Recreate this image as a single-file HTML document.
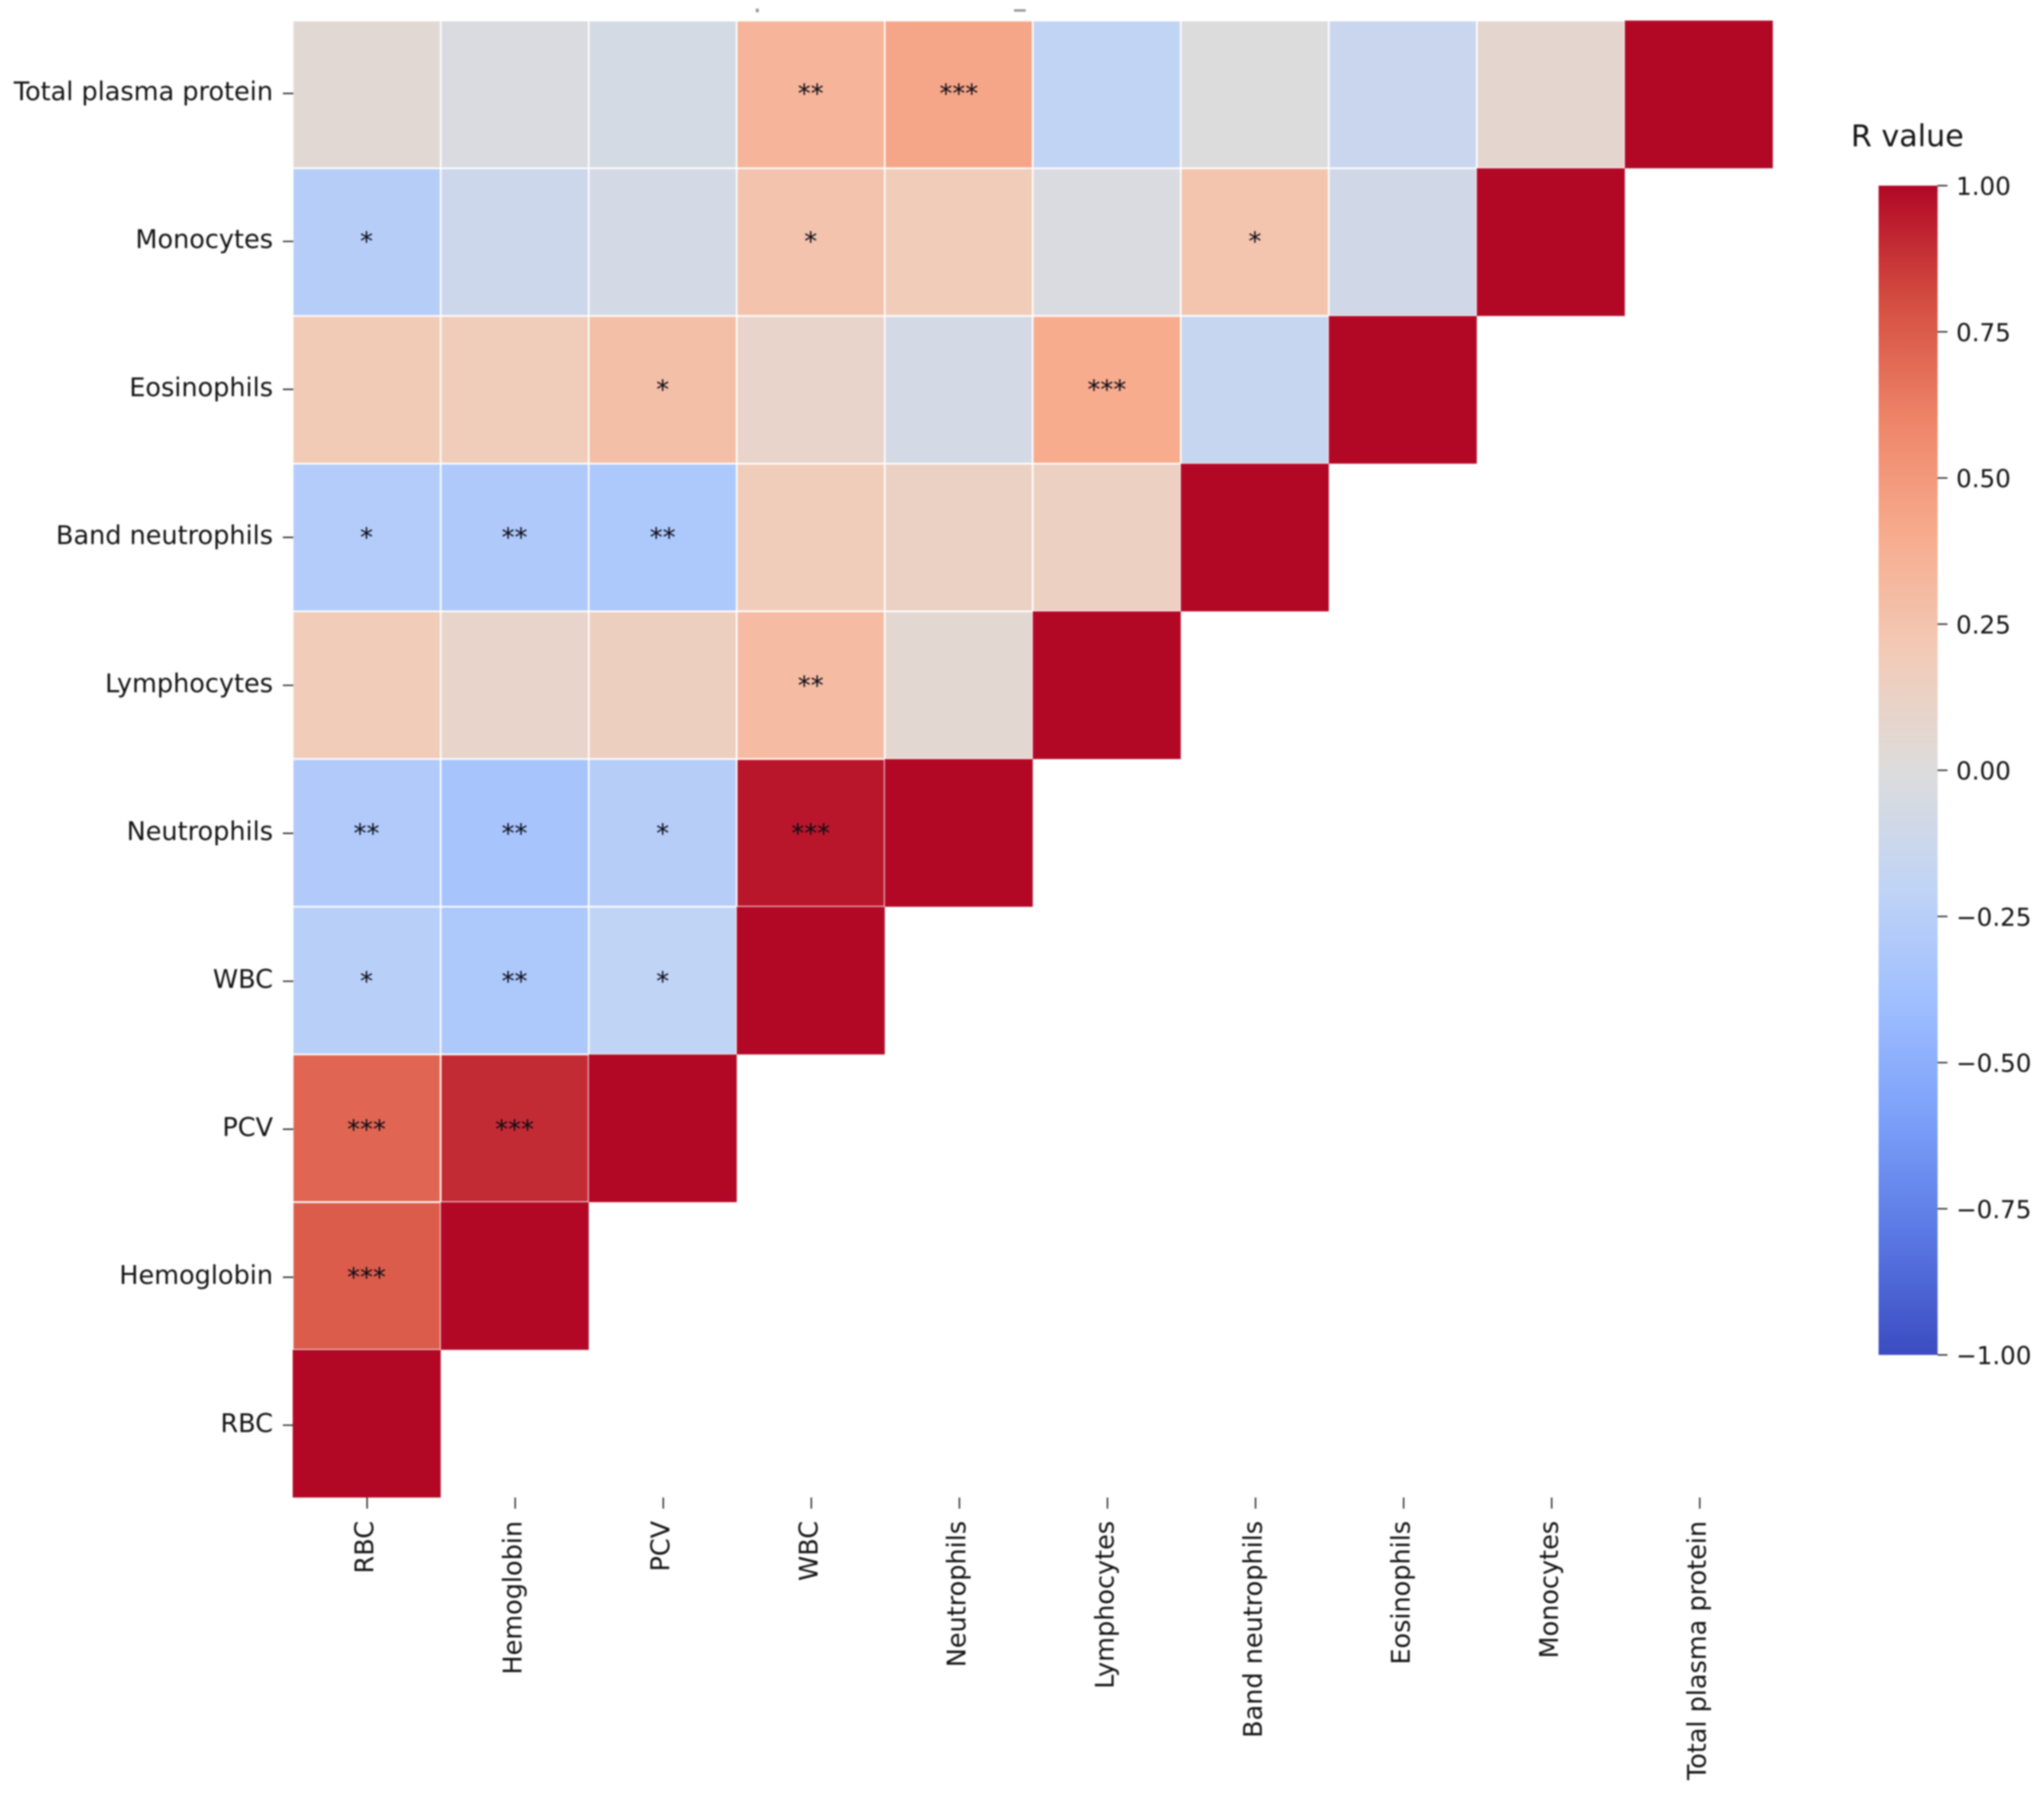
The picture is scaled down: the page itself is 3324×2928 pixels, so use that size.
<!DOCTYPE html>
<html lang="en">
<head>
<meta charset="utf-8">
<title>Correlation heatmap</title>
<style>
html,body{margin:0;padding:0;background:#fff;width:3324px;height:2928px;overflow:hidden}
svg{display:block;filter:blur(1.2px)}
text{font-family:"DejaVu Sans","Liberation Sans",sans-serif;fill:#141414}
</style>
</head>
<body>
<svg id="chart" xmlns="http://www.w3.org/2000/svg" width="3324" height="2928" viewBox="0 0 3324 2928">
<defs><linearGradient id="cbar-gradient" x1="0" y1="1" x2="0" y2="0"></linearGradient></defs>
<rect x="0" y="0" width="3324" height="2928" fill="#fff"/>
<rect x="1229" y="14" width="5" height="6" fill="#999"/>
<rect x="1649" y="15" width="19" height="4" fill="#999"/>
</svg>
<script>
const rowLabels = ["Total plasma protein","Monocytes","Eosinophils","Band neutrophils","Lymphocytes","Neutrophils","WBC","PCV","Hemoglobin","RBC"];
const colLabels = ["RBC","Hemoglobin","PCV","WBC","Neutrophils","Lymphocytes","Band neutrophils","Eosinophils","Monocytes","Total plasma protein"];
const rValues = [
  [0.05,-0.03,-0.06,0.34,0.43,-0.19,-0.01,-0.14,0.07,1],
  [-0.26,-0.12,-0.07,0.25,0.19,-0.03,0.24,-0.09,1],
  [0.20,0.18,0.28,0.10,-0.07,0.40,-0.16,1],
  [-0.27,-0.30,-0.31,0.18,0.13,0.14,1],
  [0.19,0.10,0.15,0.30,0.06,1],
  [-0.29,-0.35,-0.26,0.96,1],
  [-0.25,-0.31,-0.20,1],
  [0.71,0.90,1],
  [0.75,1],
  [1]
];
const stars = [
  ["","","","**","***","","","","",""],
  ["*","","","*","","","*","",""],
  ["","","*","","","***","",""],
  ["*","**","**","","","",""],
  ["","","","**","",""],
  ["**","**","*","***",""],
  ["*","**","*",""],
  ["***","***",""],
  ["***",""],
  [""]
];
const colorbarTicks = ["1.00","0.75","0.50","0.25","0.00","\u22120.25","\u22120.50","\u22120.75","\u22121.00"];
const colorbarTickValues = [1,0.75,0.5,0.25,0,-0.25,-0.5,-0.75,-1];
const colormapStops = ["#3b4cc0","#5977e3","#7b9ff9","#9ebeff","#c0d4f5","#dddcdc","#f2cbb7","#f7ac8e","#ee8468","#d44e41","#b20826"];

const svg = document.getElementById('chart');
const NS = 'http://www.w3.org/2000/svg';
const plotLeft = 476, colStep = 240.7, plotTop = 33.5, rowStep = 240.25;
const cbLeft = 3055, cbRight = 3151, cbTop = 302, cbBottom = 2204;

function xEdge(i){ return plotLeft + colStep * i; }
function yEdge(i){ return plotTop + rowStep * i; }
function xTick(i){ return 597 + 240.8 * i; }
function yTick(i){ return 152 + 240.7 * i; }
function cbY(v){ return cbBottom - (v + 1) / 2 * (cbBottom - cbTop); }
function hexToRgb(h){ return [1,3,5].map(function(k){ return parseInt(h.substr(k,2),16); }); }
function coolwarm(v){
  const t = Math.max(0, Math.min(1, (v + 1) / 2)) * (colormapStops.length - 1);
  const i = Math.min(Math.floor(t), colormapStops.length - 2);
  const f = t - i, a = hexToRgb(colormapStops[i]), b = hexToRgb(colormapStops[i + 1]);
  return 'rgb(' + a.map(function(c, k){ return Math.round(c + (b[k] - c) * f); }).join(',') + ')';
}
function make(tag, attrs, text){
  const el = document.createElementNS(NS, tag);
  for (const k in attrs) el.setAttribute(k, attrs[k]);
  if (text !== undefined) el.textContent = text;
  svg.appendChild(el);
  return el;
}

rValues.forEach(function(row, r){
  row.forEach(function(v, c){
    const cell = make('rect', {x: xEdge(c), y: yEdge(r), width: colStep, height: rowStep, fill: coolwarm(v), stroke: v === 1 ? 'none' : '#fff', 'stroke-width': 2.6});
    
    
  });
});
stars.forEach(function(row, r){
  row.forEach(function(s, c){
    if (!s) return;
    const note = make('text', {x: xTick(c) - 1, y: yTick(r) + 14.5, 'text-anchor': 'middle', 'font-size': 42, style: 'fill:#0d0d18'}, s);
    
    
  });
});
rowLabels.forEach(function(label, r){
  const y = yTick(r);
  const tick = make('line', {x1: 460, x2: 477, y1: y, y2: y, stroke: '#222', 'stroke-width': 2.2});
  
  
  const t = make('text', {x: 444, y: y + 11, 'text-anchor': 'end', 'font-size': 41.5}, label);
  
  
});
colLabels.forEach(function(label, c){
  const x = xTick(c);
  const tick = make('line', {x1: x, x2: x, y1: 2436, y2: 2454, stroke: '#222', 'stroke-width': 2.2});
  
  
  const t = make('text', {transform: 'translate(' + (x + 10) + ',2474) rotate(-90)', 'text-anchor': 'end', 'font-size': 41.5}, label);
  
  
});

const gradient = document.getElementById('cbar-gradient');
colormapStops.forEach(function(color, i){
  const stop = document.createElementNS(NS, 'stop');
  stop.setAttribute('offset', i / (colormapStops.length - 1));
  stop.setAttribute('stop-color', color);
  gradient.appendChild(stop);
});
const bar = make('rect', {x: cbLeft, y: cbTop, width: cbRight - cbLeft, height: cbBottom - cbTop, fill: 'url(#cbar-gradient)'});


colorbarTicks.forEach(function(label, i){
  const y = cbY(colorbarTickValues[i]);
  const tick = make('line', {x1: cbRight, x2: cbRight + 16, y1: y, y2: y, stroke: '#222', 'stroke-width': 2.2});
  
  
  const t = make('text', {x: 3181, y: y + 15, 'font-size': 40}, label);
  
  
});
const cbTitle = make('text', {x: 3010, y: 238, 'font-size': 49}, 'R value');


</script>
</body>
</html>
